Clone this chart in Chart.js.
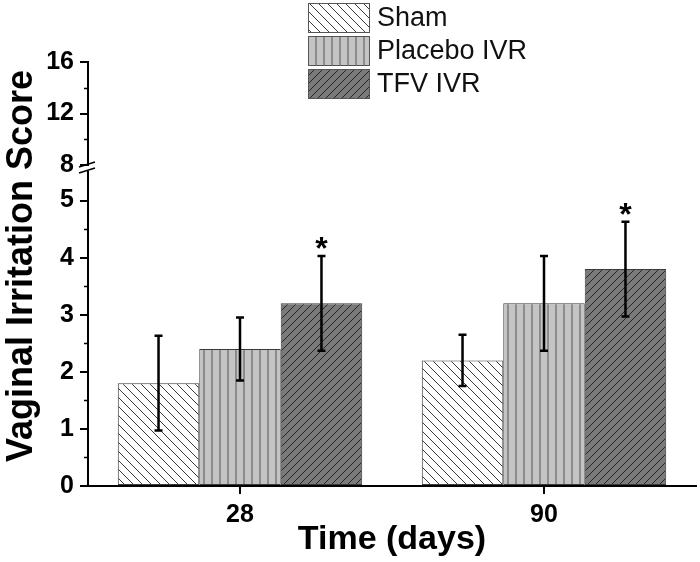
<!DOCTYPE html>
<html>
<head>
<meta charset="utf-8">
<title>Vaginal Irritation Score</title>
<script src="https://cdn.jsdelivr.net/npm/chart.js@4.4.0/dist/chart.umd.min.js"></script>
<style>
  html, body { margin: 0; padding: 0; background: #fff; }
</style>
</head>
<body>
<canvas id="myChart" width="700" height="562"></canvas>
<script>
// Chart values
const days = ['28', '90'];
const shamMean = [1.8, 2.2];
const shamErr = [0.83, 0.45];
const placeboMean = [2.4, 3.2];
const placeboErr = [0.55, 0.83];
const tfvMean = [3.2, 3.8];
const tfvErr = [0.83, 0.83];
const tfvMarks = ['*', '*'];

// Broken y axis: lower part and upper part
const lowerTicks = [0, 1, 2, 3, 4, 5];
const lowerMinor = [0.5, 1.5, 2.5, 3.5, 4.5];
const upperTicks = [8, 12, 16];
const upperMinor = [10, 14];

const FONT = "'Liberation Sans', Arial, sans-serif";

// Build a hatch fill as a canvas pattern
function makeHatch(bg, lineColor, kind, size) {
    const c = document.createElement('canvas');
    c.width = size;
    c.height = size;
    const g = c.getContext('2d');
    g.fillStyle = bg;
    g.fillRect(0, 0, size, size);
    g.strokeStyle = lineColor;
    g.lineWidth = 1;
    g.beginPath();
    if (kind === 'back') {
        g.moveTo(-1, -1); g.lineTo(size + 1, size + 1);
        g.moveTo(-1, size - 1); g.lineTo(1, size + 1);
        g.moveTo(size - 1, -1); g.lineTo(size + 1, 1);
    } else if (kind === 'fwd') {
        g.moveTo(-1, size + 1); g.lineTo(size + 1, -1);
        g.moveTo(-1, 1); g.lineTo(1, -1);
        g.moveTo(size - 1, size + 1); g.lineTo(size + 1, size - 1);
    } else {
        g.moveTo(size / 2, 0); g.lineTo(size / 2, size);
    }
    g.stroke();
    return g.createPattern(c, 'repeat');
}

const shamFill = makeHatch('#ffffff', '#3a3a3a', 'back', 9);
const placeboFill = makeHatch('#c4c4c4', '#555555', 'vert', 8);
const tfvFill = makeHatch('#7a7a7a', '#262626', 'fwd', 8);

// Error bars, asterisks, legend, y title, axis break and minor ticks
const extrasPlugin = {
    id: 'extras',
    afterDatasetsDraw(chart) {
        const ctx = chart.ctx;
        const yScale = chart.scales.y;
        ctx.save();
        chart.data.datasets.forEach((ds, i) => {
            const meta = chart.getDatasetMeta(i);
            meta.data.forEach((bar, j) => {
                const m = ds.data[j];
                const e = ds.errors[j];
                const yTop = yScale.getPixelForValue(m + e);
                const yBot = yScale.getPixelForValue(m - e);
                ctx.strokeStyle = '#000';
                ctx.lineWidth = 2.5;
                ctx.beginPath();
                ctx.moveTo(bar.x, yTop); ctx.lineTo(bar.x, yBot);
                ctx.moveTo(bar.x - 4, yTop); ctx.lineTo(bar.x + 4, yTop);
                ctx.moveTo(bar.x - 4, yBot); ctx.lineTo(bar.x + 4, yBot);
                ctx.stroke();
                if (ds.marks && ds.marks[j]) {
                    ctx.font = 'bold 32px ' + FONT;
                    ctx.fillStyle = '#000';
                    ctx.textAlign = 'center';
                    ctx.textBaseline = 'alphabetic';
                    const tm = ctx.measureText(ds.marks[j]);
                    const mid = (tm.actualBoundingBoxAscent - tm.actualBoundingBoxDescent) / 2;
                    ctx.fillText(ds.marks[j], bar.x, yTop - 13 + mid);
                }
            });
        });
        ctx.restore();
    },
    afterDraw(chart) {
        const ctx = chart.ctx;
        const yLow = chart.scales.y;
        const yUp = chart.scales.y2;
        const gap = chart.scales.yGap;
        const ax = yLow.right;
        ctx.save();

        // minor ticks
        ctx.strokeStyle = '#000';
        ctx.lineWidth = 1.5;
        ctx.beginPath();
        lowerMinor.forEach(v => {
            const p = Math.round(yLow.getPixelForValue(v)) + 0.5;
            ctx.moveTo(ax - 4, p); ctx.lineTo(ax, p);
        });
        upperMinor.forEach(v => {
            const p = Math.round(yUp.getPixelForValue(v)) + 0.5;
            ctx.moveTo(ax - 4, p); ctx.lineTo(ax, p);
        });
        ctx.stroke();

        // axis break marks
        ctx.lineWidth = 1.5;
        ctx.beginPath();
        ctx.moveTo(ax - 9, gap.top + 2); ctx.lineTo(ax + 7, gap.top - 3);
        ctx.moveTo(ax - 9, gap.bottom + 1); ctx.lineTo(ax + 7, gap.bottom - 4);
        ctx.stroke();

        // y axis title
        ctx.translate(22, 266);
        ctx.rotate(-Math.PI / 2);
        ctx.font = 'bold 36px ' + FONT;
        ctx.fillStyle = '#000';
        ctx.textAlign = 'center';
        ctx.textBaseline = 'middle';
        ctx.fillText('Vaginal Irritation Score', 0, 0);
        ctx.setTransform(1, 0, 0, 1, 0, 0);

        // legend
        chart.data.datasets.forEach((ds, i) => {
            const top = 3 + i * 33;
            ctx.fillStyle = ds.backgroundColor;
            ctx.fillRect(308, top, 61, 29);
            ctx.strokeStyle = '#555';
            ctx.lineWidth = 1;
            ctx.strokeRect(308.5, top + 0.5, 61, 29);
            ctx.font = '27px ' + FONT;
            ctx.fillStyle = '#111';
            ctx.textAlign = 'left';
            ctx.textBaseline = 'middle';
            ctx.fillText(ds.label, 377, top + 16);
        });
        ctx.restore();
    }
};

const axisFont = { family: FONT, size: 25, weight: 'bold' };

const ctx = document.getElementById('myChart').getContext('2d');
const myChart = new Chart(ctx, {
    type: 'bar',
    data: {
        labels: days,
        datasets: [
            { label: 'Sham', data: shamMean, errors: shamErr, backgroundColor: shamFill },
            { label: 'Placebo IVR', data: placeboMean, errors: placeboErr, backgroundColor: placeboFill },
            { label: 'TFV IVR', data: tfvMean, errors: tfvErr, marks: tfvMarks, backgroundColor: tfvFill }
        ].map(ds => Object.assign(ds, {
            yAxisID: 'y',
            borderColor: '#3a3a3a',
            borderWidth: 1,
            borderSkipped: false,
            barPercentage: 1,
            categoryPercentage: 0.804
        }))
    },
    options: {
        responsive: false,
        animation: false,
        layout: { padding: { left: 40, right: 4, top: 62, bottom: 0 } },
        plugins: {
            legend: { display: false },
            tooltip: { enabled: false }
        },
        scales: {
            x: {
                grid: { display: true, drawOnChartArea: false, offset: false, tickLength: 8, color: '#000', lineWidth: 2 },
                border: { color: '#000', width: 2 },
                ticks: { font: { family: FONT, size: 25, weight: 'bold' }, color: '#000', padding: 6 },
                title: {
                    display: true,
                    text: 'Time (days)',
                    font: { family: FONT, size: 34, weight: 'bold' },
                    color: '#000',
                    padding: { top: 0, bottom: 2 }
                },
                afterFit: scale => { scale.height = 76; }
            },
            y: {
                position: 'left',
                stack: 'score',
                stackWeight: 314,
                min: 0,
                max: 5.5,
                grid: { display: true, drawOnChartArea: false, tickLength: 8, color: '#000', lineWidth: 2 },
                border: { color: '#000', width: 2 },
                ticks: { font: axisFont, color: '#000', padding: 6, autoSkip: false },
                afterBuildTicks: scale => { scale.ticks = lowerTicks.map(v => ({ value: v })); },
                afterFit: scale => { scale.width = 48; }
            },
            yGap: {
                position: 'left',
                stack: 'score',
                stackWeight: 7,
                min: 0,
                max: 1,
                grid: { display: false },
                border: { display: false },
                ticks: { display: false },
                afterFit: scale => { scale.width = 48; }
            },
            y2: {
                position: 'left',
                stack: 'score',
                stackWeight: 103,
                min: 8,
                max: 16,
                grid: { display: true, drawOnChartArea: false, tickLength: 8, color: '#000', lineWidth: 2 },
                border: { color: '#000', width: 2 },
                ticks: { font: axisFont, color: '#000', padding: 6, autoSkip: false },
                afterBuildTicks: scale => { scale.ticks = upperTicks.map(v => ({ value: v })); },
                afterFit: scale => { scale.width = 48; }
            }
        }
    },
    plugins: [extrasPlugin]
});
</script>
</body>
</html>
